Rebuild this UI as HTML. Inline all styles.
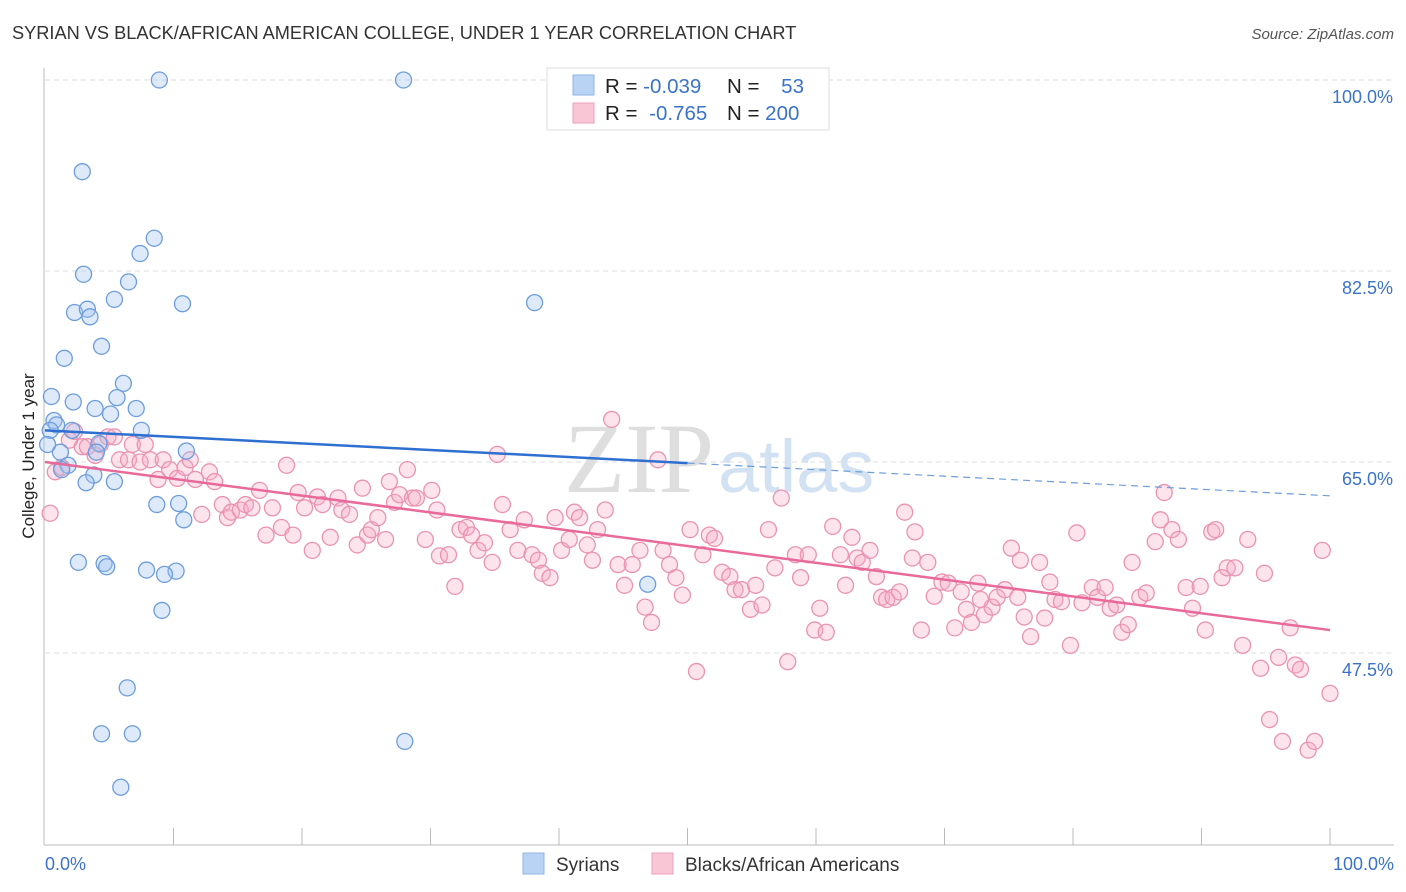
<!DOCTYPE html>
<html><head><meta charset="utf-8">
<style>
body{margin:0;background:#fff;font-family:"Liberation Sans",sans-serif;}
svg{display:block}
</style></head>
<body>
<svg id="chart" width="1406" height="892">
<text x="12" y="39" font-size="18.2" fill="#333">SYRIAN VS BLACK/AFRICAN AMERICAN COLLEGE, UNDER 1 YEAR CORRELATION CHART</text>
<text x="1394" y="39" font-size="15" fill="#555" font-style="italic" text-anchor="end">Source: ZipAtlas.com</text>
<text x="34" y="456" font-size="17" fill="#222" transform="rotate(-90 34 456)" text-anchor="middle">College, Under 1 year</text>
<text x="714" y="492" font-size="100" fill="#dedede" font-family="Liberation Serif,serif" text-anchor="end">ZIP</text>
<text x="718" y="492" font-size="74" fill="#d3e2f3">atlas</text>
<g id="grid"></g>
<g id="pts"></g>
<g id="lines"></g>
<g>
<rect x="547" y="68" width="282" height="62" fill="#fff" stroke="#ddd"/>
<rect x="573" y="75" width="21" height="20" fill="#b9d3f4" stroke="#8fb4e6"/>
<rect x="573" y="103" width="21" height="20" fill="#f9c6d6" stroke="#eca0b9"/>
<text x="605" y="93" font-size="20.5" fill="#222">R = <tspan fill="#3b73c8">-0.039</tspan></text>
<text x="727" y="93" font-size="20.5" fill="#222">N = <tspan fill="#3b73c8" dx="16">53</tspan></text>
<text x="605" y="120" font-size="20.5" fill="#222">R = <tspan fill="#3b73c8" dx="6">-0.765</tspan></text>
<text x="727" y="120" font-size="20.5" fill="#222">N = <tspan fill="#3b73c8">200</tspan></text>
</g>
<g>
<rect x="523" y="853" width="21" height="21" fill="#b9d3f4" stroke="#8fb4e6"/>
<text x="556" y="871" font-size="19" fill="#333">Syrians</text>
<rect x="652" y="853" width="21" height="21" fill="#f9c6d6" stroke="#eca0b9"/>
<text x="685" y="871" font-size="19" fill="#333">Blacks/African Americans</text>
</g>
</svg>
<script>
const yTicks=[100,82.5,65,47.5];
const yTickLabels=["100.0%","82.5%","65.0%","47.5%"];
const xTickLabels=["0.0%","100.0%"];
const blueX=[8.9,27.9,2.9,8.5,7.4,3.0,6.5,5.4,10.7,38.1,2.3,3.3,3.5,4.4,1.5,6.1,5.6,0.5,2.2,3.9,7.1,5.1,0.7,0.9,7.5,2.1,4.2,11.0,1.2,4.0,1.8,1.3,3.8,3.2,5.4,8.7,10.4,10.8,2.6,4.6,4.8,7.9,10.2,9.3,46.9,9.1,6.4,4.4,6.8,28.0,5.9,0.4,0.2];
const blueY=[100,100,91.6,85.5,84.1,82.2,81.5,79.9,79.5,79.6,78.7,79.0,78.3,75.6,74.5,72.2,70.9,71.0,70.5,69.9,69.9,69.4,68.8,68.4,67.9,67.9,66.7,66.0,65.9,65.9,64.7,64.3,63.8,63.1,63.2,61.1,61.2,59.7,55.8,55.7,55.4,55.1,55.0,54.7,53.8,51.4,44.3,40.1,40.1,39.4,35.2,67.9,66.6];
const pinkX=[0.4,0.8,1.3,1.9,2.3,2.9,3.3,3.9,4.3,4.9,5.4,5.8,6.5,6.8,7.4,7.8,8.2,8.8,9.2,9.7,10.3,10.9,11.3,11.7,12.2,12.8,13.2,13.8,14.2,14.5,15.2,15.6,16.1,16.7,17.2,17.7,18.4,18.8,19.3,19.7,20.2,20.8,21.2,21.6,22.2,22.8,23.1,23.7,24.3,24.7,25.1,25.4,25.9,26.5,26.8,27.2,27.6,28.2,28.6,28.9,29.6,30.1,30.5,30.7,31.4,31.9,32.3,32.8,33.2,33.7,34.2,34.8,35.2,35.6,36.2,36.8,37.3,37.9,38.4,38.7,39.3,39.7,40.2,40.8,41.2,41.6,42.2,42.6,43.0,43.6,44.1,44.6,45.1,45.7,46.3,46.7,47.2,47.7,48.1,48.6,49.1,49.6,50.2,50.7,51.2,51.7,52.1,52.7,53.3,53.7,54.2,54.9,55.3,55.8,56.3,56.8,57.3,57.8,58.4,58.8,59.4,59.9,60.3,60.8,61.3,61.9,62.3,62.8,63.2,63.6,64.2,64.7,65.1,65.5,66.0,66.5,66.9,67.5,67.7,68.2,68.7,69.2,69.8,70.3,70.8,71.3,71.7,72.1,72.6,73.1,73.7,74.1,74.7,75.2,75.7,76.2,76.7,77.4,77.8,78.2,78.6,79.1,79.8,80.3,80.7,81.5,81.9,82.5,82.9,83.4,83.8,84.3,84.6,85.2,85.7,86.4,86.8,87.1,87.7,88.2,88.8,89.3,89.9,90.3,90.8,91.1,91.6,92.0,92.6,93.2,93.6,94.6,94.9,95.3,96.0,96.3,96.9,97.3,97.7,98.3,98.8,99.4,100.0,75.9,72.8];
const pinkY=[60.3,64.1,64.5,67.0,67.8,66.4,66.4,65.6,66.6,67.3,67.3,65.2,65.2,66.6,65.0,66.6,65.2,63.4,65.2,64.3,63.5,64.5,65.2,63.4,60.2,64.1,63.2,61.1,59.9,60.4,60.6,61.1,60.8,62.4,58.3,60.8,59.0,64.7,58.3,62.2,60.8,56.9,61.8,61.1,58.1,61.7,60.6,60.2,57.4,62.6,58.3,58.8,59.9,57.9,63.2,61.3,62.0,64.3,61.7,61.7,57.9,62.4,60.6,56.4,56.5,53.6,58.8,59.0,58.3,56.9,57.6,55.8,65.7,61.1,58.8,56.9,59.7,56.5,56.0,54.8,54.4,59.9,56.9,57.9,60.4,59.9,57.4,56.0,58.8,60.6,68.9,55.6,53.7,55.6,56.9,51.7,50.3,65.2,56.9,55.6,54.4,52.8,58.8,45.8,56.5,58.3,58.0,54.9,54.5,53.3,53.3,51.5,53.7,51.9,58.8,55.3,61.7,46.7,56.5,54.4,56.5,49.6,51.6,49.4,59.1,56.5,53.7,58.1,56.2,55.8,56.9,54.5,52.6,52.4,52.6,53.1,60.4,56.2,58.6,49.6,55.8,52.7,54.0,53.9,49.8,53.1,51.5,50.3,53.9,51.0,51.7,52.6,53.3,57.1,52.6,50.8,49.0,55.8,50.7,54.0,52.4,52.2,48.2,58.5,52.1,53.5,52.6,53.5,51.6,51.9,49.4,50.1,55.8,52.6,53.0,57.7,59.7,62.2,58.8,57.9,53.5,51.6,53.6,49.6,58.6,58.8,54.4,55.3,55.3,48.2,57.9,46.1,54.8,41.4,47.1,39.4,49.8,46.4,46.0,38.6,39.4,56.9,43.8,56.0,52.4];
const blueLine=[67.9,64.9,61.9];
const pinkLine=[65.0,49.6];
const X0=45,X1=1330,YTOP=80,PXPER=10.914;
const sx=v=>X0+(X1-X0)*v/100;
const sy=v=>YTOP+(100-v)*PXPER;
const NS="http://www.w3.org/2000/svg";
function mk(t,a,p){const e=document.createElementNS(NS,t);for(const k in a)e.setAttribute(k,a[k]);p.appendChild(e);return e;}
const grid=document.getElementById('grid');
yTicks.forEach((v,i)=>{
 const l=mk('line',{x1:45,x2:1394,y1:sy(v),y2:sy(v),stroke:'#ddd','stroke-dasharray':'5,4'},grid);
 
 
 const t=mk('text',{x:1393,y:sy(v)+23,'font-size':18,fill:'#3b73c8','text-anchor':'end'},grid);
 t.textContent=yTickLabels[i];
 
 
});
const ax=mk('line',{x1:44,x2:44,y1:68,y2:845,stroke:'#bbb'},grid);


const xa=mk('line',{x1:44,x2:1394,y1:845,y2:845,stroke:'#bbb'},grid);


for(let i=1;i<=10;i++){const tk=mk('line',{x1:sx(i*10),x2:sx(i*10),y1:828,y2:845,stroke:'#bbb'},grid);
 
 }
[[0,'start',45],[100,'end',1394]].forEach((d,i)=>{const t=mk('text',{x:d[2],y:870,'font-size':18,fill:'#3b73c8','text-anchor':d[1]},grid);t.textContent=xTickLabels[i];
 
 });
const pts=document.getElementById('pts');
pinkX.forEach((x,i)=>{const c=mk('circle',{cx:sx(x),cy:sy(pinkY[i]),r:8,fill:'rgba(246,170,196,0.33)',stroke:'#ea93b1','stroke-width':1.3},pts);
 
 });
blueX.forEach((x,i)=>{const c=mk('circle',{cx:sx(x),cy:sy(blueY[i]),r:8,fill:'rgba(160,196,240,0.35)',stroke:'#6d9ddb','stroke-width':1.3},pts);
 
 });
const lines=document.getElementById('lines');
const b1=mk('line',{x1:sx(0),y1:sy(blueLine[0]),x2:sx(50),y2:sy(blueLine[1]),stroke:'#2f6fd0','stroke-width':2.5},lines);


const b2=mk('line',{x1:sx(50),y1:sy(blueLine[1]),x2:sx(100),y2:sy(blueLine[2]),stroke:'#6d9ddb','stroke-width':1.2,'stroke-dasharray':'7,5'},lines);


const p1=mk('line',{x1:sx(0),y1:sy(pinkLine[0]),x2:sx(100),y2:sy(pinkLine[1]),stroke:'#e8699a','stroke-width':2.5},lines);


</script>
</body></html>
